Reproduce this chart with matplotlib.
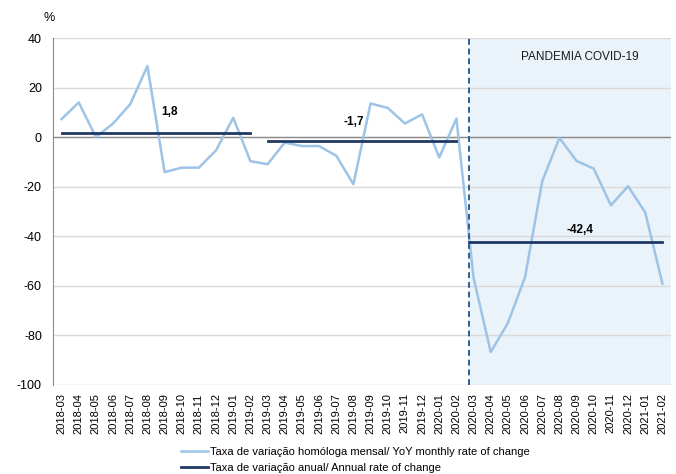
import matplotlib.pyplot as plt

plt.rcParams['font.family'] = ['Liberation Sans', 'DejaVu Sans']
plt.rcParams['axes.unicode_minus'] = False

months = ['2018-03', '2018-04', '2018-05', '2018-06', '2018-07', '2018-08',
          '2018-09', '2018-10', '2018-11', '2018-12', '2019-01', '2019-02',
          '2019-03', '2019-04', '2019-05', '2019-06', '2019-07', '2019-08',
          '2019-09', '2019-10', '2019-11', '2019-12', '2020-01', '2020-02',
          '2020-03', '2020-04', '2020-05', '2020-06', '2020-07', '2020-08',
          '2020-09', '2020-10', '2020-11', '2020-12', '2021-01', '2021-02']
monthly = [7.3, 14.0, 0.0, 5.5, 13.3, 28.7, -14.1, -12.3, -12.3, -5.3, 7.8, -9.7,
           -10.9, -2.2, -3.6, -3.6, -7.5, -19.0, 13.6, 11.8, 5.5, 9.2, -8.2, 7.5,
           -56.8, -86.7, -75.0, -56.4, -17.8, -0.3, -9.6, -12.7, -27.5, -19.8, -30.4, -59.1]
# annual rate per period: first month index, last month index, value, label
annual_start = [0, 12, 24]
annual_end = [11, 23, 35]
annual_vals = [1.8, -1.7, -42.4]
annual_labels = ['1,8', '-1,7', '-42,4']

light = '#9DC3E6'
navy = '#1F3864'

fig = plt.figure(figsize=(6.76, 4.74), dpi=100)
ax = fig.add_axes([0.0784, 0.1878, 0.9142, 0.732])

x = list(range(len(months)))
ax.set_xlim(-0.5, len(months) - 0.5)
ax.set_ylim(-100, 40)

# pandemic shading + divider
split = 23.75
ax.axvspan(split, len(months) - 0.5, color='#EBF3FA', zorder=0, lw=0)
ax.axvline(split, color='#2E5E8E', ls=(0, (3, 2)), lw=1.4, zorder=4)

ax.set_yticks(range(-100, 41, 20))
ax.yaxis.grid(True, color='#D9D9D9', lw=1)
ax.set_axisbelow(True)
ax.axhline(0, color='#8C8C8C', lw=1, zorder=1)

l1, = ax.plot(x, monthly, color=light, lw=1.8, zorder=3,
              label='Taxa de variação homóloga mensal/ YoY monthly rate of change')
for s, e, v in zip(annual_start, annual_end, annual_vals):
    if s == 24:
        s = split
    l2, = ax.plot([s, e], [v, v], color=navy, lw=2, zorder=3,
                  label='Taxa de variação anual/ Annual rate of change')
ax.text(6.3, 9.0, annual_labels[0], fontsize=8.5, fontweight='bold', ha='center')
ax.text(17.0, 5.0, annual_labels[1], fontsize=8.5, fontweight='bold', ha='center')
ax.text(30.2, -38.8, annual_labels[2], fontsize=8.5, fontweight='bold', ha='center')
ax.text(30.2, 31.0, 'PANDEMIA COVID-19', fontsize=8.5, ha='center', color='#1a1a1a')

ax.set_xticks(x)
ax.set_xticklabels(months, rotation=90, fontsize=8)
ax.tick_params(axis='x', length=0, pad=6)
ax.tick_params(axis='y', length=0, labelsize=9, pad=8)
for side in ['top', 'right', 'bottom']:
    ax.spines[side].set_visible(False)
ax.spines['left'].set_color('#8C8C8C')

fig.text(0.073, 0.955, '%', fontsize=9, ha='center')

fig.legend(handles=[l1, l2], loc='upper left', bbox_to_anchor=(0.268, 0.058),
           frameon=False, fontsize=8, handlelength=2.4, labelspacing=0.6,
           handletextpad=0.15, borderpad=0, borderaxespad=0)

fig.savefig('out.png', dpi=100)
